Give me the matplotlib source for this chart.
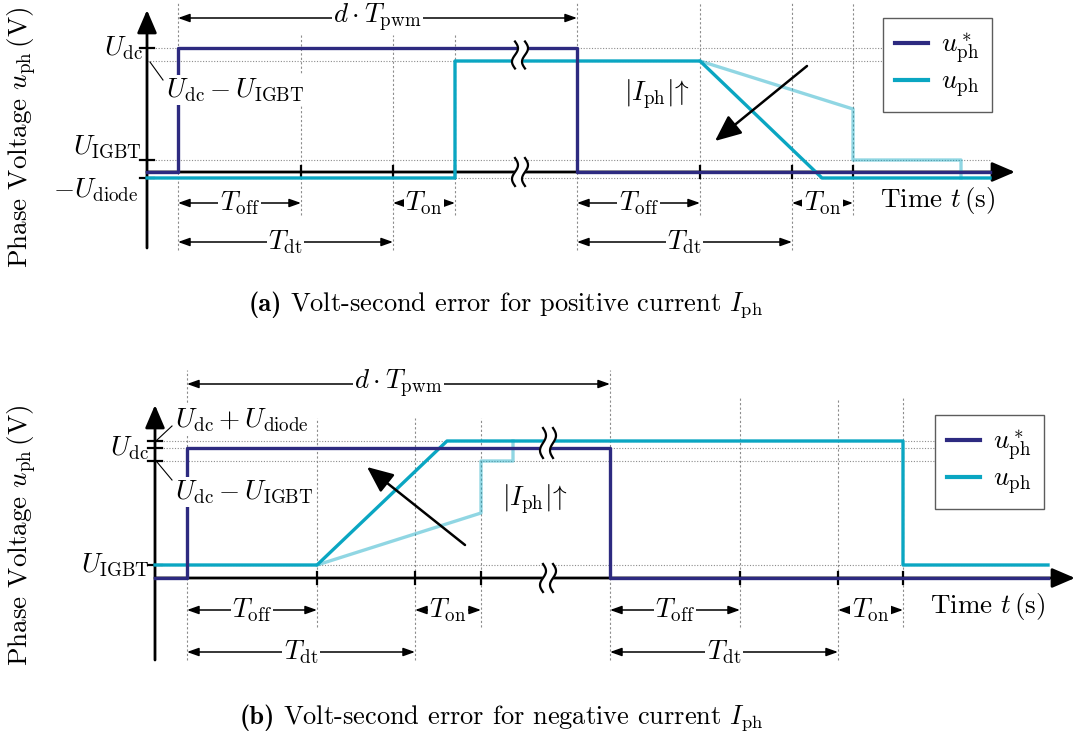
import numpy as np
import matplotlib.pyplot as plt
from matplotlib.lines import Line2D

plt.rcParams['font.family'] = 'serif'
plt.rcParams['font.serif'] = ['cmr10']
plt.rcParams['mathtext.fontset'] = 'cm'
plt.rcParams['axes.formatter.use_mathtext'] = True

REF = '#2d2a80'
ACT = '#0aa6c2'
GRID = '#8c8c8c'
FS = 19.5
CAP_FS = 19

# ---- (a) positive current ----
a_ton_cmd, a_t1, a_t2, a_t3 = 31, 154, 246, 308
a_toff_cmd, a_t5, a_t6, a_t7 = 430, 553, 645, 706
a_end, a_arrow_end = 843, 868
a_udc, a_udc_igbt, a_uigbt, a_udiode = 124, 111, 12, -6

a_ref_t = [0, a_ton_cmd, a_ton_cmd, a_toff_cmd, a_toff_cmd, a_end]
a_ref_u = [0, 0, a_udc, a_udc, 0, 0]
a_act_t = [0, a_t3, a_t3, a_t5, 675, a_end]
a_act_u = [a_udiode, a_udiode, a_udc_igbt, a_udc_igbt, a_udiode, a_udiode]
a_slow_t = [a_t5, a_t7, a_t7, 814, 814]
a_slow_u = [a_udc_igbt, 63, a_uigbt, a_uigbt, a_udiode]

# ---- (b) negative current ----
b_ton_cmd, b_t1, b_t2, b_t3 = 32, 162, 260, 326
b_toff_cmd, b_t5, b_t6, b_t7 = 455, 585, 683, 748
b_end, b_arrow_end = 893, 920
b_udc_diode, b_udc, b_udc_igbt, b_uigbt = 137, 130, 117, 13

b_ref_t = [0, b_ton_cmd, b_ton_cmd, b_toff_cmd, b_toff_cmd, b_end]
b_ref_u = [0, 0, b_udc, b_udc, 0, 0]
b_act_t = [0, b_t1, 292, b_t7, b_t7, b_end]
b_act_u = [b_uigbt, b_uigbt, b_udc_diode, b_udc_diode, b_uigbt, b_uigbt]
b_slow_t = [b_t1, b_t3, b_t3, 358, 358]
b_slow_u = [b_uigbt, 65, b_udc_igbt, b_udc_igbt, b_udc_diode]

fig = plt.figure(figsize=(10.78, 7.43), dpi=100)
ax_a = fig.add_axes([0, 408 / 743, 1, 335 / 743])
ax_a.set_xlim(-147, 931)
ax_a.set_ylim(-163, 172)
ax_b = fig.add_axes([0, 0, 1, 408 / 743])
ax_b.set_xlim(-155, 923)
ax_b.set_ylim(-165, 243)
for ax in (ax_a, ax_b):
    ax.axis('off')

WHITE = dict(fc='white', ec='none', pad=1.0)


def span(ax, x0, x1, y, label):
    ax.annotate('', xy=(x0, y), xytext=(x1, y),
                arrowprops=dict(arrowstyle='<|-|>,head_length=0.7,head_width=0.25',
                                color='black', lw=1.1, shrinkA=0, shrinkB=0,
                                mutation_scale=10))
    ax.text((x0 + x1) / 2, y, label, ha='center', va='center', fontsize=FS,
            bbox=dict(fc='white', ec='none', pad=1.0), zorder=5)


def vdash(ax, x, top, bottom):
    ax.plot([x, x], [bottom, top], color=GRID, lw=0.8, ls=(0, (2, 2)), zorder=1)


def hdot(ax, y, x1):
    ax.plot([0, x1], [y, y], color=GRID, lw=0.8, ls=(0, (1, 1.5)), zorder=1)


def squiggle(ax, x, y, h):
    s = np.linspace(0, 1, 40)
    yy = y + h * (0.5 - s)
    c1 = x - 5 + 3 * np.sin(2 * np.pi * s)
    c2 = x + 5 + 3 * np.sin(2 * np.pi * s)
    ax.fill(np.r_[c1, c2[::-1]], np.r_[yy, yy[::-1]], color='white', zorder=6)
    ax.plot(c1, yy, color='black', lw=1.6, zorder=7)
    ax.plot(c2, yy, color='black', lw=1.6, zorder=7)


def axes_arrows(ax, y_bottom, y_top, x_end):
    for xy, xytext in (((0, y_top), (0, y_bottom)), ((x_end, 0), (0, 0))):
        ax.annotate('', xy=xy, xytext=xytext,
                    arrowprops=dict(arrowstyle='-|>,head_length=0.7,head_width=0.3',
                                    color='black', lw=2, shrinkA=0, shrinkB=0,
                                    mutation_scale=20), zorder=3)


def ticks(ax, xs, ys):
    for x in xs:
        ax.plot([x, x], [-6, 6], color='black', lw=1.6, zorder=3)
    for y in ys:
        ax.plot([-7, 7], [y, y], color='black', lw=1.6, zorder=3)


def legend(ax, x, y):
    handles = [Line2D([], [], color=REF, lw=3), Line2D([], [], color=ACT, lw=3)]
    leg = ax.legend(handles, [r'$u_\mathrm{ph}^*$', r'$u_\mathrm{ph}$'],
                    loc='upper left', bbox_to_anchor=(x, y),
                    bbox_transform=ax.transData, fontsize=FS, frameon=True,
                    fancybox=False, handlelength=1.2, handletextpad=0.5,
                    borderpad=0.45, labelspacing=0.2, borderaxespad=0)
    leg.get_frame().set_edgecolor('#333333')
    leg.get_frame().set_linewidth(1.0)


def caption(ax, x, y, tag, rest):
    ax.text(x, y, tag, ha='right', va='baseline', fontsize=CAP_FS, family='cmb10')
    ax.text(x + 8, y, rest, ha='left', va='baseline', fontsize=CAP_FS)


# ---------------- panel (a) ----------------
ax = ax_a
for x in (a_ton_cmd, a_toff_cmd):
    vdash(ax, x, 169, -78)
for x in (a_t1, a_t3):
    vdash(ax, x, 137, -43)
vdash(ax, a_t2, 137, -78)
for x in (a_t5, a_t7):
    vdash(ax, x, 169, -43)
vdash(ax, a_t6, 169, -78)
hdot(ax, a_udc, 736)
hdot(ax, a_udc_igbt, 736)
hdot(ax, a_uigbt, a_end)
hdot(ax, a_udiode, a_end)

axes_arrows(ax, -76, 162, a_arrow_end)
ticks(ax, [a_t1, a_t2, a_t3, a_t5, a_t6, a_t7], [a_udc, a_uigbt, a_udiode])

ax.plot(a_slow_t, a_slow_u, color=ACT, alpha=0.45, lw=2.4, zorder=4)
ax.plot(a_act_t, a_act_u, color=ACT, lw=2.4, zorder=4)
ax.plot(a_ref_t, a_ref_u, color=REF, lw=2.4, zorder=4)

squiggle(ax, 373, 117, 27)
squiggle(ax, 373, 0, 28)

span(ax, a_ton_cmd, a_toff_cmd, 154, r'$d \cdot T_\mathrm{pwm}$')
span(ax, a_ton_cmd, a_t1, -31, r'$T_\mathrm{off}$')
span(ax, a_t2, a_t3, -31, r'$T_\mathrm{on}$')
span(ax, a_ton_cmd, a_t2, -70, r'$T_\mathrm{dt}$')
span(ax, a_toff_cmd, a_t5, -31, r'$T_\mathrm{off}$')
span(ax, a_t6, a_t7, -31, r'$T_\mathrm{on}$')
span(ax, a_toff_cmd, a_t6, -70, r'$T_\mathrm{dt}$')

ax.annotate('', xy=(568, 31), xytext=(660, 106),
            arrowprops=dict(arrowstyle='-|>,head_length=0.8,head_width=0.35',
                            color='black', lw=1.8, shrinkA=0, shrinkB=0,
                            mutation_scale=20), zorder=8)
ax.text(510, 77, r'$|I_\mathrm{ph}|\!\uparrow$', ha='center', va='center', fontsize=FS)

ax.text(-4, 124, r'$U_\mathrm{dc}$', ha='right', va='center', fontsize=FS)
ax.text(-5, 25, r'$U_\mathrm{IGBT}$', ha='right', va='center', fontsize=FS)
ax.text(-9, -18, r'$-U_\mathrm{diode}$', ha='right', va='center', fontsize=FS)
ax.plot([3, 16], [110, 92], color='black', lw=0.8)
ax.text(19, 82, r'$U_\mathrm{dc} - U_\mathrm{IGBT}$', ha='left', va='center',
        fontsize=FS, bbox=WHITE, zorder=6)
ax.text(733, -28, r'Time $t\,$(s)', ha='left', va='center', fontsize=FS)
ax.text(-125, 35, r'Phase Voltage $u_\mathrm{ph}\,$(V)', rotation=90,
        ha='center', va='center', fontsize=FS)
legend(ax, 736, 154)
caption(ax, 135, -139, '(a)', r'Volt-second error for positive current $I_\mathrm{ph}$')

# ---------------- panel (b) ----------------
ax = ax_b
for x in (b_ton_cmd, b_toff_cmd):
    vdash(ax, x, 208, -82)
for x in (b_t1, b_t3):
    vdash(ax, x, 160, -49)
vdash(ax, b_t2, 160, -82)
for x in (b_t5, b_t7):
    vdash(ax, x, 180, -49)
vdash(ax, b_t6, 180, -82)
hdot(ax, b_udc_diode, 780)
hdot(ax, b_udc, 780)
hdot(ax, b_udc_igbt, 780)
hdot(ax, b_uigbt, b_end)

axes_arrows(ax, -82, 173, b_arrow_end)
ticks(ax, [b_t1, b_t2, b_t3, b_t5, b_t6, b_t7],
      [b_udc_diode, b_udc, b_udc_igbt, b_uigbt])

ax.plot(b_slow_t, b_slow_u, color=ACT, alpha=0.45, lw=2.4, zorder=4)
ax.plot(b_act_t, b_act_u, color=ACT, lw=2.4, zorder=4)
ax.plot(b_ref_t, b_ref_u, color=REF, lw=2.4, zorder=4)

squiggle(ax, 393, 135, 30)
squiggle(ax, 393, 0, 28)

span(ax, b_ton_cmd, b_toff_cmd, 194, r'$d \cdot T_\mathrm{pwm}$')
span(ax, b_ton_cmd, b_t1, -32, r'$T_\mathrm{off}$')
span(ax, b_t2, b_t3, -32, r'$T_\mathrm{on}$')
span(ax, b_ton_cmd, b_t2, -74, r'$T_\mathrm{dt}$')
span(ax, b_toff_cmd, b_t5, -32, r'$T_\mathrm{off}$')
span(ax, b_t6, b_t7, -32, r'$T_\mathrm{on}$')
span(ax, b_toff_cmd, b_t6, -74, r'$T_\mathrm{dt}$')

ax.annotate('', xy=(212, 111), xytext=(310, 33),
            arrowprops=dict(arrowstyle='-|>,head_length=0.8,head_width=0.35',
                            color='black', lw=1.8, shrinkA=0, shrinkB=0,
                            mutation_scale=20), zorder=8)
ax.text(380, 78, r'$|I_\mathrm{ph}|\!\uparrow$', ha='center', va='center', fontsize=FS)

ax.text(-6, 130, r'$U_\mathrm{dc}$', ha='right', va='center', fontsize=FS)
ax.text(-5, 13, r'$U_\mathrm{IGBT}$', ha='right', va='center', fontsize=FS)
ax.plot([2, 17], [138, 152], color='black', lw=0.8)
ax.text(20, 158, r'$U_\mathrm{dc} + U_\mathrm{diode}$', ha='left', va='center',
        fontsize=FS, bbox=WHITE, zorder=6)
ax.plot([2, 17], [116, 98], color='black', lw=0.8)
ax.text(20, 86, r'$U_\mathrm{dc} - U_\mathrm{IGBT}$', ha='left', va='center',
        fontsize=FS, bbox=WHITE, zorder=6)
ax.text(775, -29, r'Time $t\,$(s)', ha='left', va='center', fontsize=FS)
ax.text(-133, 43, r'Phase Voltage $u_\mathrm{ph}\,$(V)', rotation=90,
        ha='center', va='center', fontsize=FS)
legend(ax, 780, 163)
caption(ax, 120, -146, '(b)', r'Volt-second error for negative current $I_\mathrm{ph}$')

fig.savefig('out.png', dpi=100)
